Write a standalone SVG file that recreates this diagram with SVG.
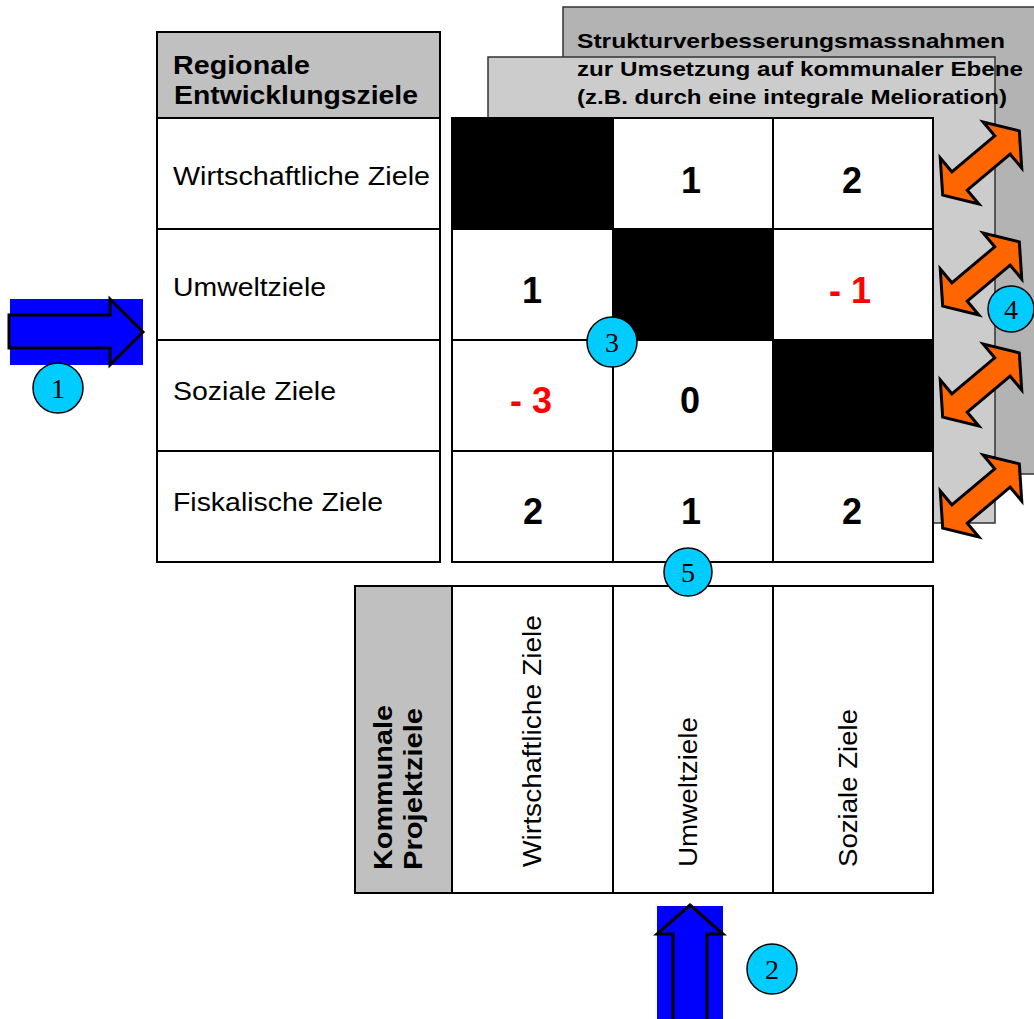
<svg xmlns="http://www.w3.org/2000/svg" width="1034" height="1019" viewBox="0 0 1034 1019">
  <style>
    .sans { font-family: "Liberation Sans", Arial, sans-serif; }
    .lbl { font-family: "Liberation Sans", Arial, sans-serif; font-size: 25px; fill: #000; }
    .hdr { font-family: "Liberation Sans", Arial, sans-serif; font-size: 26px; font-weight: bold; fill: #000; }
    .num { font-family: "Liberation Sans", Arial, sans-serif; font-size: 36px; font-weight: bold; fill: #000; text-anchor: middle; }
    .neg { fill: #ff0000; }
    .panel-t { font-family: "Liberation Sans", Arial, sans-serif; font-size: 21px; font-weight: bold; fill: #000; }
    .cell { fill: #fff; stroke: #000; stroke-width: 2; }
    .head { fill: #c0c0c0; stroke: #000; stroke-width: 2; }
    .grid { stroke: #000; stroke-width: 2; fill: none; }
    .dark { fill: #000; }
    .badge circle { fill: #00ccff; stroke: #000; stroke-width: 1.5; }
    .badge text { font-family: "Liberation Serif", "Times New Roman", serif; font-size: 28px; fill: #000; text-anchor: middle; }
    .blue-bg { fill: #0000ff; }
    .blue-arrow { fill: #0000ff; stroke: #000; stroke-width: 3; stroke-linejoin: miter; }
    .orange { fill: #ff6600; stroke: #000; stroke-width: 3; stroke-linejoin: miter; }
  </style>
  <defs>
    <!-- double-headed arrow, drawn along the x axis around the origin -->
    <path id="dbl" d="M50,0 L28,-30 L28,-12 L-28,-12 L-28,-30 L-50,0 L-28,30 L-28,12 L28,12 L28,30 Z"/>
  </defs>

  <!-- stacked measure panels -->
  <g id="measures">
    <rect x="563" y="7" width="480" height="467" fill="#b3b3b3" stroke="#333" stroke-width="1.5"/>
    <rect x="488" y="57" width="507" height="466" fill="#cccccc" stroke="#333" stroke-width="1.5"/>
    <text class="panel-t" x="577" y="48" textLength="428" lengthAdjust="spacingAndGlyphs">Strukturverbesserungsmassnahmen</text>
    <text class="panel-t" x="577" y="76" textLength="446" lengthAdjust="spacingAndGlyphs">zur Umsetzung auf kommunaler Ebene</text>
    <text class="panel-t" x="577" y="104" textLength="430" lengthAdjust="spacingAndGlyphs">(z.B. durch eine integrale Melioration)</text>
  </g>

  <!-- regional goals column -->
  <g id="regional">
    <rect class="head" x="157" y="32" width="283" height="86"/>
    <rect class="cell" x="157" y="118" width="283" height="444"/>
    <line class="grid" x1="157" y1="229" x2="440" y2="229"/>
    <line class="grid" x1="157" y1="340" x2="440" y2="340"/>
    <line class="grid" x1="157" y1="451" x2="440" y2="451"/>
    <text class="hdr" x="173" y="74" textLength="137" lengthAdjust="spacingAndGlyphs">Regionale</text>
    <text class="hdr" x="174" y="104" textLength="244" lengthAdjust="spacingAndGlyphs">Entwicklungsziele</text>
    <text class="lbl" x="173" y="185" textLength="257" lengthAdjust="spacingAndGlyphs">Wirtschaftliche Ziele</text>
    <text class="lbl" x="173" y="296" textLength="153" lengthAdjust="spacingAndGlyphs">Umweltziele</text>
    <text class="lbl" x="173" y="400" textLength="163" lengthAdjust="spacingAndGlyphs">Soziale Ziele</text>
    <text class="lbl" x="173" y="511" textLength="210" lengthAdjust="spacingAndGlyphs">Fiskalische Ziele</text>
  </g>

  <!-- interaction matrix -->
  <g id="matrix">
    <rect class="cell" x="452" y="118" width="481" height="444"/>
    <rect class="dark" x="452" y="118" width="161" height="111"/>
    <rect class="dark" x="613" y="229" width="160" height="111"/>
    <rect class="dark" x="773" y="340" width="160" height="111"/>
    <line class="grid" x1="613" y1="118" x2="613" y2="562"/>
    <line class="grid" x1="773" y1="118" x2="773" y2="562"/>
    <line class="grid" x1="452" y1="229" x2="933" y2="229"/>
    <line class="grid" x1="452" y1="340" x2="933" y2="340"/>
    <line class="grid" x1="452" y1="451" x2="933" y2="451"/>
    <rect class="grid" x="452" y="118" width="481" height="444"/>
    <text class="num" x="691" y="193">1</text>
    <text class="num" x="852" y="193">2</text>
    <text class="num" x="532" y="303">1</text>
    <text class="num neg" x="850" y="303">- 1</text>
    <text class="num neg" x="531" y="413">- 3</text>
    <text class="num" x="690" y="413">0</text>
    <text class="num" x="533" y="524">2</text>
    <text class="num" x="691" y="524">1</text>
    <text class="num" x="852" y="524">2</text>
  </g>

  <!-- municipal project goals -->
  <g id="municipal">
    <rect class="cell" x="355" y="586" width="578" height="307"/>
    <rect class="head" x="355" y="586" width="97" height="307"/>
    <line class="grid" x1="613" y1="586" x2="613" y2="893"/>
    <line class="grid" x1="773" y1="586" x2="773" y2="893"/>
    <text class="hdr" transform="translate(392,870) rotate(-90)" textLength="165" lengthAdjust="spacingAndGlyphs">Kommunale</text>
    <text class="hdr" transform="translate(422,870) rotate(-90)" textLength="162" lengthAdjust="spacingAndGlyphs">Projektziele</text>
    <text class="lbl" transform="translate(541,867) rotate(-90)" textLength="252" lengthAdjust="spacingAndGlyphs">Wirtschaftliche Ziele</text>
    <text class="lbl" transform="translate(697,867) rotate(-90)" textLength="150" lengthAdjust="spacingAndGlyphs">Umweltziele</text>
    <text class="lbl" transform="translate(857,867) rotate(-90)" textLength="158" lengthAdjust="spacingAndGlyphs">Soziale Ziele</text>
  </g>

  <!-- connectors: input arrows and exchange arrows -->
  <g id="connectors">
    <rect class="blue-bg" x="10" y="299" width="133" height="66"/>
    <path class="blue-arrow" d="M9,315 L110,315 L110,299 L143,332 L110,365 L110,348 L9,348 Z"/>
    <rect class="blue-bg" x="657" y="906" width="66" height="113"/>
    <path class="blue-arrow" d="M690,905 L723,934 L707,934 L707,1022 L673,1022 L673,934 L657,934 Z"/>
    <use href="#dbl" class="orange" transform="translate(981,163) rotate(-40)"/>
    <use href="#dbl" class="orange" transform="translate(981,274) rotate(-40)"/>
    <use href="#dbl" class="orange" transform="translate(981,385) rotate(-40)"/>
    <use href="#dbl" class="orange" transform="translate(981,496) rotate(-40)"/>
  </g>

  <!-- numbered markers -->
  <g id="marker-1" class="badge"><circle cx="58" cy="388" r="25"/><text x="58" y="398">1</text></g>
  <g id="marker-2" class="badge"><circle cx="772" cy="969" r="25"/><text x="772" y="979">2</text></g>
  <g id="marker-3" class="badge"><circle cx="612" cy="342" r="25"/><text x="612" y="352">3</text></g>
  <g id="marker-4" class="badge"><circle cx="1011" cy="309" r="23"/><text x="1011" y="319">4</text></g>
  <g id="marker-5" class="badge"><circle cx="688" cy="572" r="24"/><text x="688" y="582">5</text></g>
</svg>
